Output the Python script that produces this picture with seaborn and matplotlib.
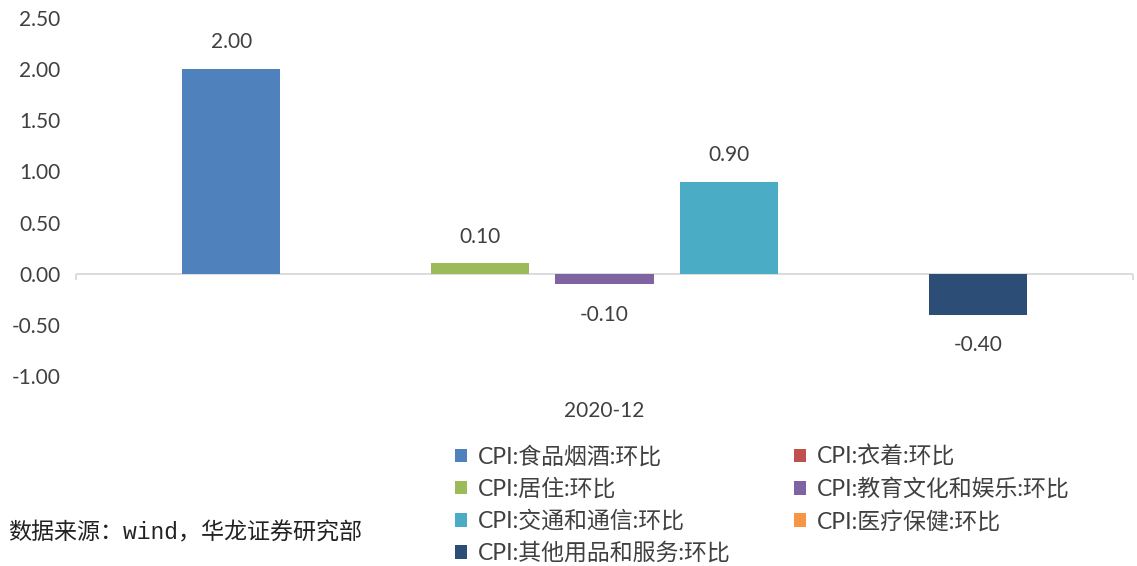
import matplotlib
matplotlib.use("Agg")
import matplotlib.pyplot as plt
import seaborn as sns
import pandas as pd

# data
periods = ["2020-12"]
series = ["CPI:食品烟酒:环比", "CPI:衣着:环比", "CPI:居住:环比", "CPI:教育文化和娱乐:环比",
          "CPI:交通和通信:环比", "CPI:医疗保健:环比", "CPI:其他用品和服务:环比"]
values = [2.00, 0.00, 0.10, -0.10, 0.90, 0.00, -0.40]
colors = ["#4F81BD", "#C0504D", "#9BBB59", "#8064A2", "#4BACC6", "#F79646", "#2C4D75"]
yticks = [-1.0, -0.5, 0.0, 0.5, 1.0, 1.5, 2.0, 2.5]
source = "数据来源：wind，华龙证券研究部"

sns.set_theme(style="white")
plt.rcParams['font.family'] = ['Lato', 'Noto Sans CJK SC', 'DejaVu Sans']
text_color = "#404040"

df = pd.DataFrame({"period": periods * len(series), "series": series, "value": values})

fig = plt.figure(figsize=(11.37, 5.66), dpi=100)
ax = fig.add_axes([0.0668, 0.3357, 0.9297, 0.6325])

sns.barplot(data=df, x="period", y="value", hue="series", hue_order=series,
            palette=colors, width=0.824, gap=0.21, errorbar=None, saturation=1,
            linewidth=0, ax=ax)

handles, labels = ax.get_legend_handles_labels()
ax.get_legend().remove()

# value labels, skip the zero bars like the original
for cont, v in zip(ax.containers, values):
    lab = [f"{v:.2f}"] if v != 0 else [""]
    ax.bar_label(cont, labels=lab, padding=12 if v > 0 else 15, fontsize=15,
                 color=text_color)

ax.set_ylim(-1.0, 2.5)
ax.set_xlim(-0.5, 0.5)
ax.set_yticks(yticks)
ax.set_yticklabels([f"{t:.2f}" for t in yticks])
ax.set_xlabel("")
ax.set_ylabel("")
ax.tick_params(axis='y', labelsize=15, labelcolor=text_color, pad=11, length=0)
ax.tick_params(axis='x', labelsize=15, labelcolor=text_color, pad=18, length=0)
for s in ax.spines.values():
    s.set_visible(False)

# category axis at zero
ax.axhline(0, color="#D9D9D9", lw=1.3, zorder=0)
ax.vlines([-0.5, 0.5], -0.06, 0, color="#D9D9D9", lw=1.3, clip_on=False)

# legend filled row by row, two columns
order = [0, 2, 4, 6, 1, 3, 5]
fig.legend([handles[i] for i in order], [labels[i] for i in order], ncol=2,
           loc='upper left', bbox_to_anchor=(0.390, 0.233), frameon=False,
           fontsize=16.5, handlelength=0.55, handleheight=0.55, handletextpad=0.45,
           labelspacing=0.45, columnspacing=2.75, borderpad=0, labelcolor=text_color)

fig.text(0.007, 0.058, source, fontsize=16.6, color="#222222", va='center',
         family=['Liberation Mono', 'Noto Sans CJK SC'])

fig.savefig("out.png", dpi=100)
